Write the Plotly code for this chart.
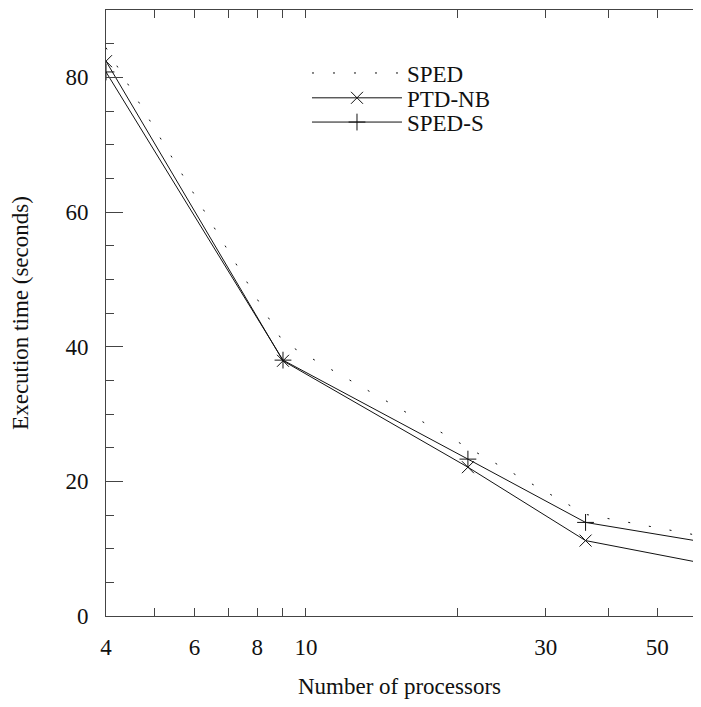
import math

import plotly.graph_objects as go

# Значения (x — число процессоров, y — время в секундах).
processors = [4, 9, 21, 36, 64]
sped = [84.4, 40.7, 25.0, 15.1, 11.6]
ptd_nb = [82.4, 37.9, 22.1, 11.2, 7.6]
sped_s = [80.8, 38.0, 23.3, 13.9, 10.8]

x_tickvals = [4, 5, 6, 7, 8, 9, 10, 20, 30, 40, 50]
x_ticktext = ["4", "", "6", "", "8", "", "10", "", "30", "", "50"]

FONT = "Liberation Serif, Times New Roman, serif"
INK = "#111111"
AXIS = "#444444"
X_RANGE = [math.log10(4), math.log10(58.9)]
Y_RANGE = [0, 90]

fig = go.Figure()
fig.add_scatter(
    x=processors, y=sped, mode="lines", name="SPED",
    line=dict(color=INK, width=1, dash="2px,19px"), legend="legend",
)
fig.add_scatter(
    x=processors, y=ptd_nb, mode="lines+markers", name="PTD-NB",
    line=dict(color=INK, width=1),
    marker=dict(symbol="x-thin", size=12, line=dict(color=INK, width=1)),
    legend="legend2",
)
fig.add_scatter(
    x=processors, y=sped_s, mode="lines+markers", name="SPED-S",
    line=dict(color=INK, width=1),
    marker=dict(symbol="cross-thin", size=12, line=dict(color=INK, width=1)),
    legend="legend3",
)


def _legend(y):
    return dict(
        x=0.3424, y=y, xanchor="left", yanchor="middle",
        bgcolor="rgba(0,0,0,0)", itemwidth=90,
        font=dict(family=FONT, size=23, color=INK),
    )


# у body страницы поля по 8px: фигура меньше окна, чтобы не было прокрутки
fig.update_layout(
    width=685,
    height=691,
    margin=dict(l=98, r=0, t=2, b=83, autoexpand=False),
    paper_bgcolor="white",
    plot_bgcolor="white",
    font=dict(family=FONT, size=23, color=INK),
    showlegend=True,
    legend=_legend(0.896),
    legend2=_legend(0.855),
    legend3=_legend(0.815),
    xaxis=dict(
        type="log", range=X_RANGE, automargin=False,
        tickvals=x_tickvals, ticktext=x_ticktext,
        ticks="inside", ticklen=8, tickcolor=AXIS, tickwidth=1,
        ticklabelstandoff=10,
        showline=True, linecolor=AXIS, linewidth=1, mirror="ticks",
        showgrid=False, zeroline=False,
        title=dict(text="Number of processors", standoff=20,
                   font=dict(family=FONT, size=23)),
    ),
    # длинная засечка на 10 (снизу и сверху)
    xaxis2=dict(
        type="log", range=X_RANGE, overlaying="x", anchor="y",
        tickvals=[10], ticks="inside", ticklen=17, tickcolor=AXIS,
        showticklabels=False, showline=False, mirror="ticks",
        showgrid=False, zeroline=False,
    ),
    yaxis=dict(
        range=Y_RANGE, dtick=20, tick0=0, automargin=False,
        ticks="inside", ticklen=17, tickcolor=AXIS, tickwidth=1,
        minor=dict(dtick=5, ticks="inside", ticklen=8, tickcolor=AXIS),
        ticklabelstandoff=12,
        showline=True, linecolor=AXIS, linewidth=1,
        showgrid=False, zeroline=False,
        title=dict(text="Execution time (seconds)", standoff=31,
                   font=dict(family=FONT, size=23)),
    ),
    # засечки у правого края (сама рамка за пределами кадра)
    yaxis2=dict(
        range=Y_RANGE, overlaying="y", side="right", anchor="x",
        tickvals=[20, 40, 60, 80], ticks="inside", ticklen=7, tickcolor=AXIS,
        showticklabels=False, showline=False, showgrid=False, zeroline=False,
    ),
)

fig.write_html("out.html")
